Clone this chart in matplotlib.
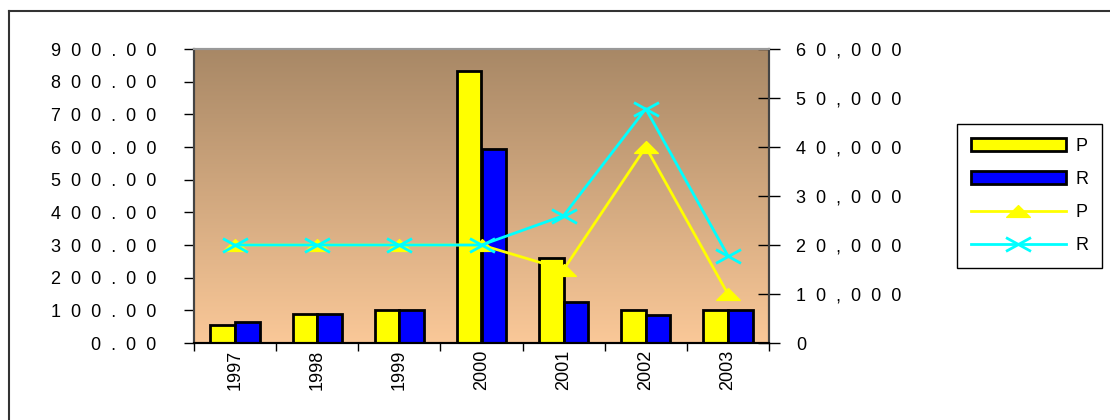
import numpy as np
import matplotlib.pyplot as plt
from matplotlib.lines import Line2D
from matplotlib.path import Path
from matplotlib.colors import LinearSegmentedColormap

plt.rcParams['font.family'] = ['Liberation Sans', 'DejaVu Sans']

# data
years = ['1997', '1998', '1999', '2000', '2001', '2002', '2003']
bar_p = [56, 90, 100, 832, 260, 100, 100]
bar_r = [63, 90, 100, 594, 124, 85, 100]
line_p = [20000, 20000, 20000, 20000, 15000, 40000, 10000]
line_r = [20000, 20000, 20000, 20000, 26000, 47800, 17800]

left_ticks = list(range(0, 1000, 100))
right_ticks = list(range(0, 70000, 10000))


def spaced(s):
    # Excel-style wide character spacing
    return '  '.join(s)


# flat markers like the Excel ones
tri = Path([(-1, -0.5), (1, -0.5), (0, 0.5), (-1, -0.5)],
           [Path.MOVETO, Path.LINETO, Path.LINETO, Path.CLOSEPOLY])
cross = Path([(-1, -0.55), (1, 0.55), (-1, 0.55), (1, -0.55)],
             [Path.MOVETO, Path.LINETO, Path.MOVETO, Path.LINETO])

fig = plt.figure(figsize=(11.1, 4.2), dpi=100)
ax = fig.add_axes([194 / 1110, 1 - 343 / 420, 575 / 1110, 294 / 420])
ax2 = ax.twinx()

x = np.arange(len(years))
w = 0.3

# gradient background of the plot area
cmap = LinearSegmentedColormap.from_list('bg', ['#a88866', '#fac898'])
grad = np.linspace(0, 1, 256).reshape(-1, 1)
ax.imshow(grad, cmap=cmap, extent=[-0.5, 6.5, 0, 900], origin='upper', aspect='auto', zorder=0)

ax.bar(x - w / 2, bar_p, width=w, color='#ffff00', edgecolor='black', linewidth=2, label='P', zorder=2)
ax.bar(x + w / 2, bar_r, width=w, color='#0000ff', edgecolor='black', linewidth=2, label='R', zorder=2)

ax2.plot(x, line_p, color='#ffff00', lw=2, marker=tri, markersize=17, label='P')
ax2.plot(x, line_r, color='#00ffff', lw=2, marker=cross, markersize=18,
         markeredgewidth=2, markerfacecolor='none', label='R')

ax.set_xlim(-0.5, 6.5)
ax.set_ylim(0, 900)
ax2.set_ylim(0, 60000)

ax.set_yticks(left_ticks)
ax.set_yticklabels([spaced(f'{v:.2f}') for v in left_ticks])
ax2.set_yticks(right_ticks)
ax2.set_yticklabels([spaced(f'{v:,}') for v in right_ticks])

ax.set_xticks(np.arange(-0.5, 7, 1))
ax.set_xticklabels([])
ax.set_xticks(x, minor=True)
ax.set_xticklabels(years, minor=True, rotation=90, va='top', ha='center')
ax.tick_params(axis='x', which='major', direction='out', length=6, width=1)
ax.tick_params(axis='x', which='minor', length=0, pad=5, labelsize=13)
ax.tick_params(axis='y', direction='out', length=7.2, width=1, pad=20, labelsize=13)
ax2.tick_params(axis='y', direction='inout', length=16, width=1, pad=11.5, labelsize=13)

for a in (ax, ax2):
    a.spines['top'].set_color('#999999')
    a.spines['left'].set_color('#444444')
    a.spines['right'].set_color('#444444')
    a.spines['bottom'].set_color('black')
    for s in a.spines.values():
        s.set_linewidth(1.5)

h1, l1 = ax.get_legend_handles_labels()
h2, l2 = ax2.get_legend_handles_labels()
fig.legend(h1 + h2, l1 + l2, loc='upper left', bbox_to_anchor=(957 / 1110, 1 - 124 / 420),
           borderaxespad=0, fontsize=13, handlelength=5.3, labelspacing=0.9, borderpad=0.75,
           fancybox=False, edgecolor='black', framealpha=1, handletextpad=0.5)

# outer chart border (only left and top visible)
fig.add_artist(Line2D([9 / 1110, 9 / 1110], [0, 1 - 11 / 420], color='#333333', lw=1.5))
fig.add_artist(Line2D([9 / 1110, 1], [1 - 11 / 420, 1 - 11 / 420], color='#333333', lw=1.5))

fig.savefig('out.png', dpi=100)
